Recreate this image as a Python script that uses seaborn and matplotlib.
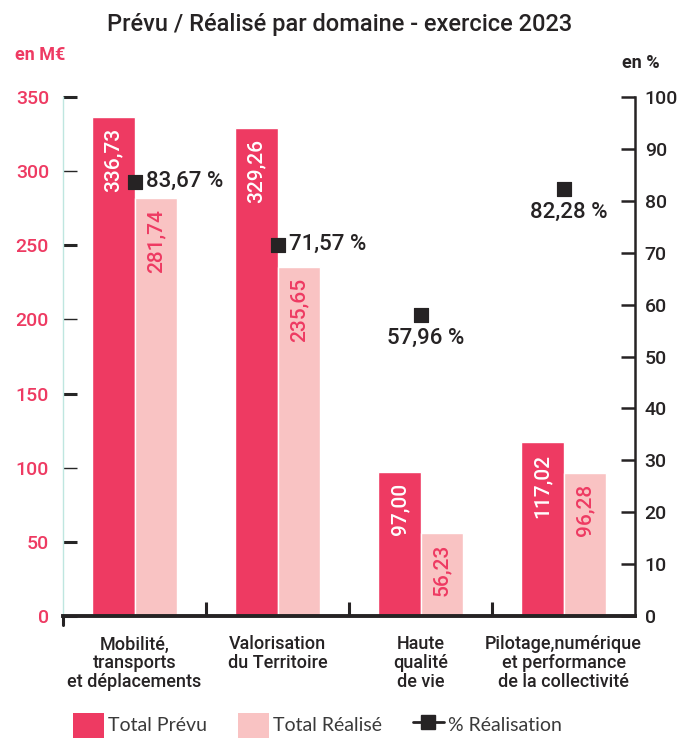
import matplotlib
matplotlib.use("Agg")
import matplotlib.pyplot as plt
import seaborn as sns
import pandas as pd
from matplotlib.patches import Patch
from matplotlib.lines import Line2D

categories = ["Mobilité,\ntransports\net déplacements", "Valorisation\ndu Territoire",
              "Haute\nqualité\nde vie", "Pilotage,numérique\net performance\nde la collectivité"]
prevu = [336.73, 329.26, 97.00, 117.02]
realise = [281.74, 235.65, 56.23, 96.28]
pct = [83.67, 71.57, 57.96, 82.28]
series = ["Total Prévu", "Total Réalisé"]

PINK = "#EE3A62"
LIGHT = "#F9C3C3"
DARK = "#262324"
TEAL = "#BFE6E0"
COND = ["Roboto", "DejaVu Sans"]

sns.set_theme(style="white")
plt.rcParams["font.family"] = COND
plt.rcParams["font.weight"] = "medium"

df = pd.DataFrame({
    "cat": categories * 2,
    "serie": [series[0]] * 4 + [series[1]] * 4,
    "val": prevu + realise,
})
dfp = pd.DataFrame({"cat": categories, "pct": pct})

fig = plt.figure(figsize=(6.79, 7.51), dpi=100)
ax = fig.add_axes([63/679, 135/751, 572/679, 519/751])
sns.barplot(data=df, x="cat", y="val", hue="serie", palette=[PINK, LIGHT],
            saturation=1, width=0.59, edgecolor="white", linewidth=1, ax=ax,
            legend=False)
ax.set_xlim(-0.5, 3.5)
ax.set_ylim(0, 350)
ax.set_xlabel("")
ax.set_ylabel("")

# value labels in bars
for ci, cont in enumerate(ax.containers):
    for bar, v in zip(cont, [prevu, realise][ci]):
        ax.annotate(f"{v:.2f}".replace(".", ","),
                    (bar.get_x() + bar.get_width() / 2, bar.get_height()),
                    xytext=(0, -8), textcoords="offset points",
                    rotation=90, ha="center", va="top",
                    color="white" if ci == 0 else PINK, fontsize=15)

ax.spines["top"].set_visible(False)
ax.spines["left"].set_color(TEAL)
ax.spines["left"].set_linewidth(1)
ax.spines["right"].set_visible(False)
ax.spines["bottom"].set_color(DARK)
ax.spines["bottom"].set_linewidth(2.8)

ax.set_yticks(range(0, 351, 50))
ax.tick_params(axis="y", direction="in", length=10, width=2, left=True,
               labelsize=14, labelcolor=PINK, pad=10)
for i, t in enumerate(ax.yaxis.get_major_ticks()):
    if i % 2 == 1:
        t.tick1line.set_color(DARK)
        t.tick1line.set_markeredgewidth(2.2)
    else:
        t.tick1line.set_color(TEAL)
        t.tick1line.set_markeredgewidth(1)
ax.yaxis.get_major_ticks()[0].tick1line.set_color(DARK)
ax.yaxis.get_major_ticks()[0].tick1line.set_markeredgewidth(2.2)

ax.set_xticks(range(4))
ax.set_xticklabels(categories, fontsize=13, color=DARK, linespacing=1.05)
ax.tick_params(axis="x", which="major", length=0, pad=14, bottom=True)
ax.set_xticks([0.5, 1.5, 2.5], minor=True)
ax.tick_params(axis="x", which="minor", direction="in", length=10, width=2.2,
               color=DARK, bottom=True)
ax.add_line(Line2D([0, 0], [0, -0.017], transform=ax.transAxes, color=DARK,
                   lw=2.2, clip_on=False))

# right axis
ax2 = ax.twinx()
ax2.set_ylim(0, 100)
sns.scatterplot(data=dfp, x="cat", y="pct", marker="s", s=110, color=DARK,
                edgecolor=DARK, ax=ax2, zorder=5, legend=False)
ax2.set_xlim(-0.5, 3.5)
ax2.set_ylabel("")
ax2.set_yticks(range(0, 101, 10))
for s in ["top", "left", "bottom"]:
    ax2.spines[s].set_visible(False)
ax2.spines["right"].set_color(DARK)
ax2.spines["right"].set_linewidth(1.8)
ax2.tick_params(axis="y", direction="in", length=10, width=1.8, right=True,
                color=DARK, labelsize=14, labelcolor=DARK, pad=7)
ax2.grid(False)
ax.grid(False)

for i, p in enumerate(pct):
    txt = f"{p:.2f}".replace(".", ",") + " %"
    if i < 2:
        ax2.annotate(txt, (i, p), xytext=(8, 0), textcoords="offset points",
                     ha="left", va="center", fontsize=16, color=DARK)
    else:
        ax2.annotate(txt, (i, p), xytext=(4, -9), textcoords="offset points",
                     ha="center", va="top", fontsize=16, color=DARK)

fig.text(0.5, 1 - 24/751, "Prévu / Réalisé par domaine - exercice 2023", ha="center",
         va="center", fontsize=17, color=DARK)
fig.text(15/679, 1 - 55/751, "en M€", ha="left", va="center", fontsize=13,
         color=PINK, fontweight="bold")
fig.text(660/679, 1 - 63/751, "en %", ha="right", va="center", fontsize=13,
         color=DARK, fontweight="bold")

handles = [Patch(facecolor=PINK, edgecolor="none"),
           Patch(facecolor=LIGHT, edgecolor="none"),
           Line2D([], [], color=DARK, marker="s", markersize=10, lw=2)]
leg = fig.legend(handles, ["Total Prévu", "Total Réalisé", "% Réalisation"],
                 loc="lower left", bbox_to_anchor=(55/679, -4/751), ncol=3,
                 frameon=False, handlelength=1.6, handleheight=1.6,
                 columnspacing=1.6, handletextpad=0.2,
                 prop={"family": ["Lato", "DejaVu Sans"], "weight": "normal", "size": 14})
for t in leg.get_texts():
    t.set_color("#3a3a3a")

fig.savefig("out.png", dpi=100)
